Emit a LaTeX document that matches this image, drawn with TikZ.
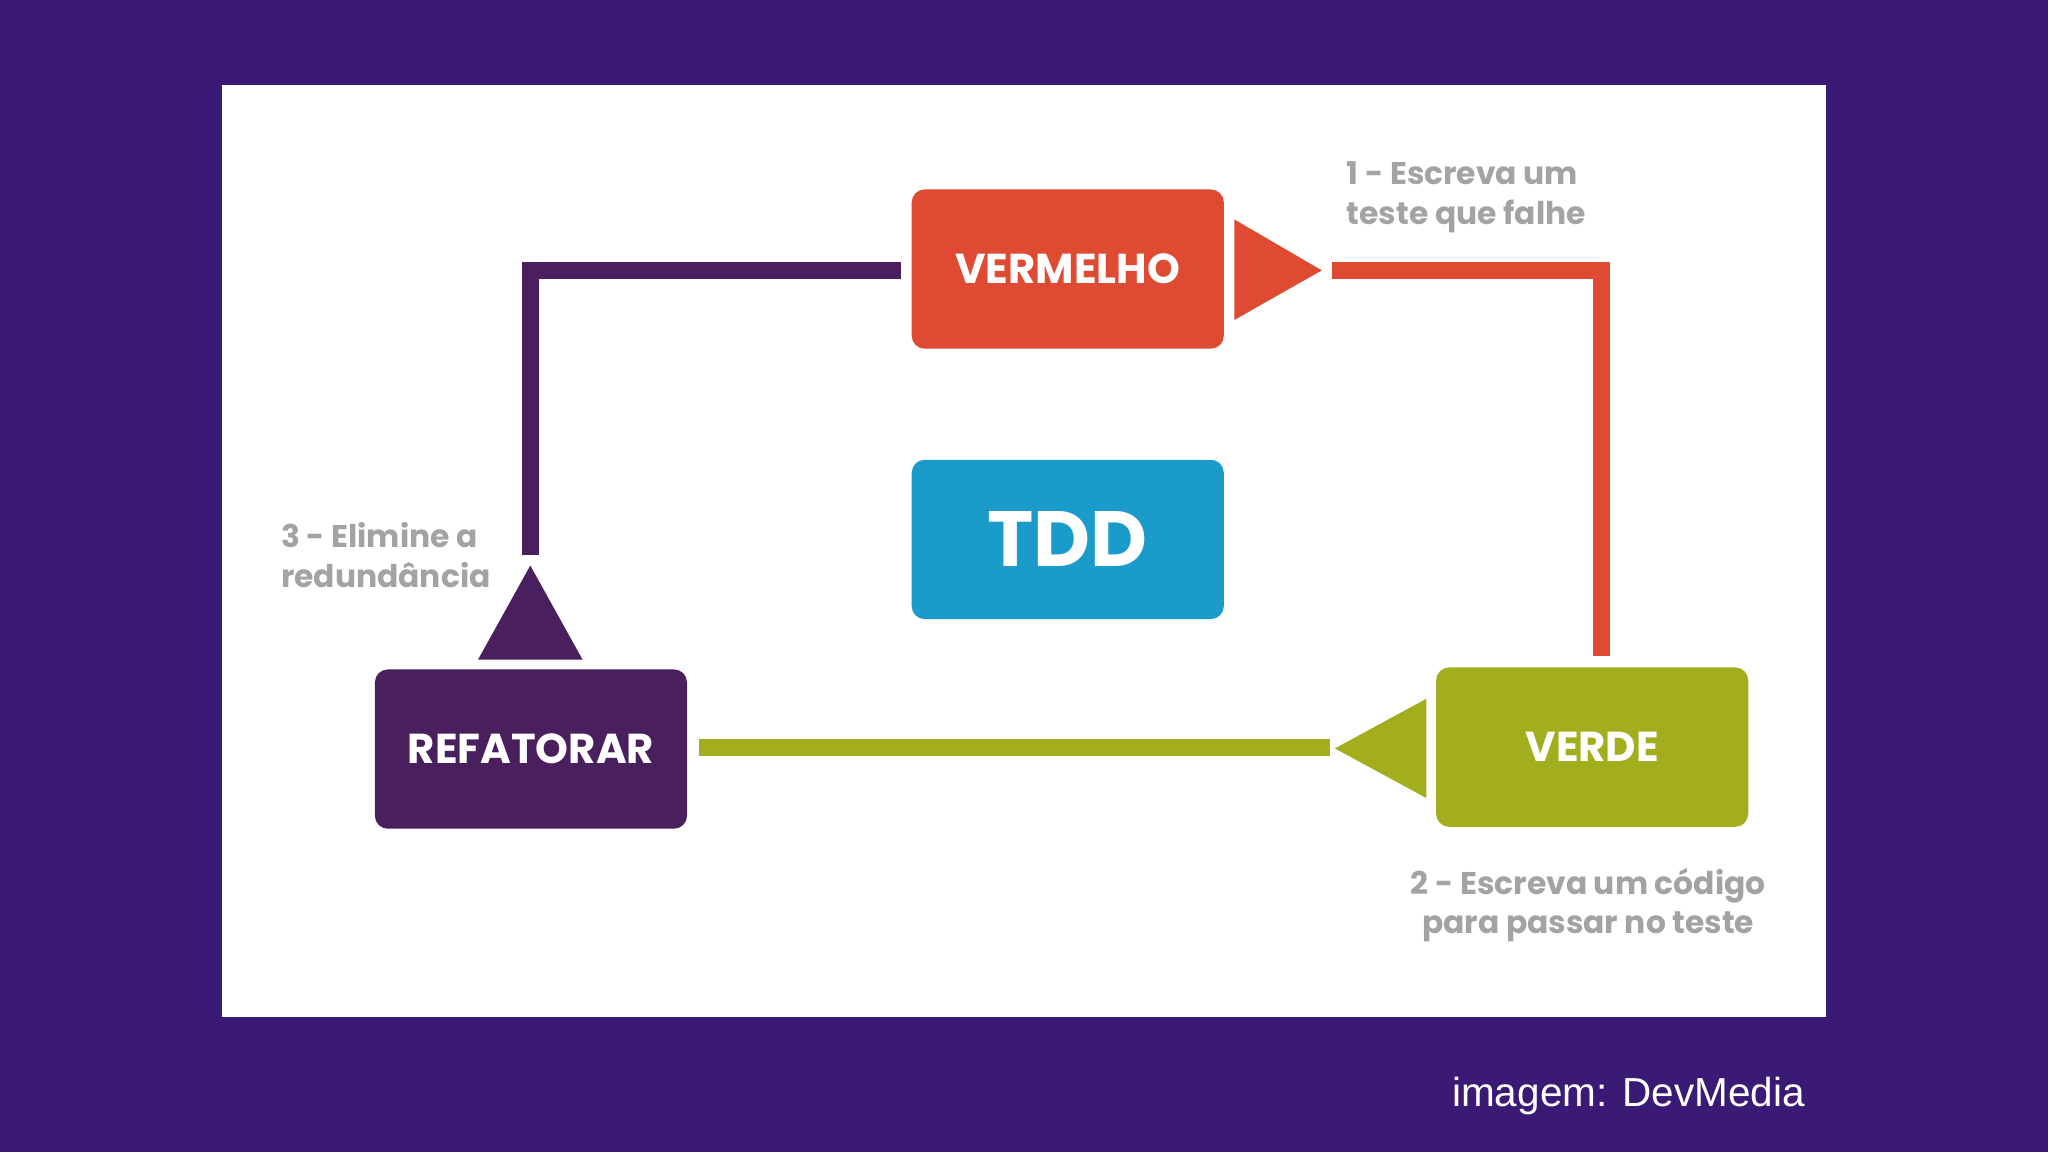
\documentclass[tikz,border=0pt]{standalone}
\usepackage{fontspec}
\setmainfont{Poppins}
\newfontfamily\arialf{Liberation Sans}
\definecolor{bgp}{HTML}{3A1A75}
\definecolor{cred}{HTML}{DF4A32}
\definecolor{cblue}{HTML}{1A9BC9}
\definecolor{cgreen}{HTML}{A3AE1F}
\definecolor{cpurp}{HTML}{4A1F5E}
\definecolor{cgray}{HTML}{A3A3A3}
\tikzset{x=1pt,y=-1pt,
 boxst/.style={rounded corners=10pt,minimum width=239pt,minimum height=122pt,inner sep=0pt,text=white,font=\bfseries\fontsize{32}{32}\selectfont},
 lbl/.style={text=cgray,font=\bfseries\fontsize{24}{30}\selectfont,inner sep=0pt},
 conn/.style={line width=13pt}}
\begin{document}
\begin{tikzpicture}
\fill[bgp] (0,0) rectangle (1568,882);
\useasboundingbox (0,0) rectangle (1568,882);
\fill[white] (170,65) rectangle (1398,779);
\node[boxst,fill=cred] (verm) at (817.5,206) {VERMELHO};
\node[boxst,fill=cblue,font=\bfseries\fontsize{60}{60}\selectfont] (tdd) at (817.5,413) {TDD};
\node[boxst,fill=cgreen] (verde) at (1219,572) {VERDE};
\node[boxst,fill=cpurp] (ref) at (406.5,573.5) {REFATORAR};
% red
\fill[cred] (945,168) -- (1012,207) -- (945,245) -- cycle;
\coordinate (r1) at (1020,207); \coordinate (r2) at (1226,207); \coordinate (r3) at (1226,502);
\draw[conn,cred] (r1) -- (r2) -- (r3);
% green
\fill[cgreen] (1092,535) -- (1022,573) -- (1092,611) -- cycle;
\coordinate (g1) at (1018,572); \coordinate (g2) at (535,572);
\draw[conn,cgreen] (g1) -- (g2);
% purple
\fill[cpurp] (366,505) -- (406,433) -- (446,505) -- cycle;
\coordinate (p1) at (406,425); \coordinate (p2) at (406,207); \coordinate (p3) at (690,207);
\draw[conn,cpurp] (p1) -- (p2) -- (p3);
\node[lbl,align=left,anchor=west] (l1) at (1031,151) {1 - Escreva um\\teste que falhe};
\node[lbl,align=left,anchor=west] (l3) at (215,425) {3 - Elimine a\\redundância};
\node[lbl,align=center] (l2) at (1216,693) {2 - Escreva um código\\para passar no teste};
\node[text=white,font=\arialf\fontsize{31}{31}\selectfont,anchor=east,inner sep=0pt] (cr) at (1382,839) {imagem: DevMedia};
\end{tikzpicture}
\end{document}
